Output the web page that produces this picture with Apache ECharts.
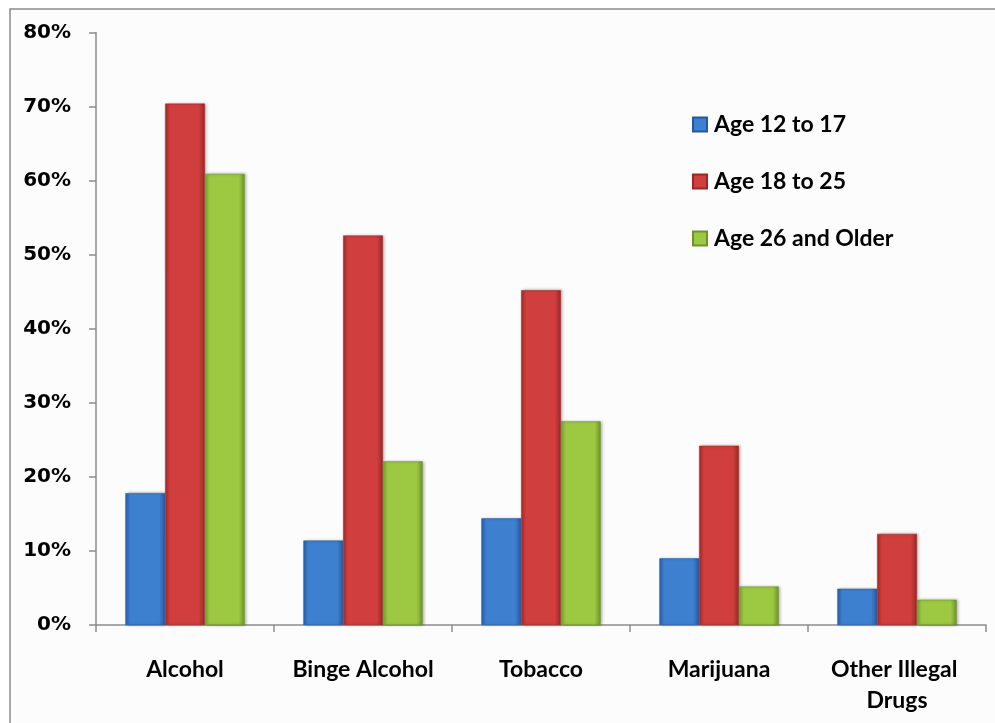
<!DOCTYPE html>
<html>
<head>
<meta charset="utf-8">
<script src="https://cdn.jsdelivr.net/npm/echarts@6/dist/echarts.min.js"></script>
<style>
html,body{margin:0;padding:0;background:#fff;}
#chart{width:995px;height:723px;}
</style>
</head>
<body>
<div id="chart"></div>
<script>
const categories = ["Alcohol", "Binge Alcohol", "Tobacco", "Marijuana", "Other Illegal Drugs"];
const seriesNames = ["Age 12 to 17", "Age 18 to 25", "Age 26 and Older"];
const age12to17 = [17.8, 11.4, 14.4, 9.0, 4.9];
const age18to25 = [70.4, 52.6, 45.2, 24.2, 12.3];
const age26plus = [60.9, 22.1, 27.5, 5.2, 3.4];
const yTicks = [0, 10, 20, 30, 40, 50, 60, 70, 80];

const palettes = [
  ["#2a62ae", "#3e80d0", "#2558a0"],
  ["#a82c2b", "#d03e3d", "#9a2726"],
  ["#7ba42e", "#9cc842", "#6f9526"]
];
function grad(p) {
  return new echarts.graphic.LinearGradient(0, 0, 1, 0, [
    {offset: 0, color: p[0]},
    {offset: 0.12, color: p[1]},
    {offset: 0.85, color: p[1]},
    {offset: 1, color: p[2]}
  ]);
}
const seriesData = [age12to17, age18to25, age26plus];

const chart = echarts.init(document.getElementById('chart'));
chart.setOption({
  backgroundColor: '#ffffff',
  animation: false,
  graphic: [
    {type: 'rect', silent: true, z: -10, shape: {x: 10, y: 9, width: 990, height: 720},
     style: {fill: '#fbfcfb', stroke: '#8c8c8c', lineWidth: 1.5}}
  ],
  grid: {left: 96, right: 9, top: 32.5, bottom: 98, containLabel: false},
  legend: {
    orient: 'vertical',
    left: 687,
    top: 108,
    itemWidth: 14,
    itemHeight: 14,
    itemGap: 34,
    icon: 'rect',
    textStyle: {fontFamily: 'Lato', fontWeight: 'bold', fontSize: 23, color: '#000', lineHeight: 21, padding: [0,0,0,2]},
    data: seriesNames
  },
  xAxis: {
    type: 'category',
    data: categories,
    axisLine: {lineStyle: {color: '#8c8c8c', width: 1.5}},
    axisTick: {show: true, length: 7, lineStyle: {color: '#8c8c8c', width: 1.5}, inside: false},
    axisLabel: {
      fontFamily: 'Lato', fontWeight: 'bold', fontSize: 23, color: '#000',
      margin: 29, lineHeight: 31, width: 165, overflow: 'break', interval: 0
    }
  },
  yAxis: {
    type: 'value',
    min: yTicks[0],
    max: yTicks[yTicks.length - 1],
    interval: 10,
    axisLine: {show: true, lineStyle: {color: '#8c8c8c', width: 1.5}},
    axisTick: {show: true, length: 7, lineStyle: {color: '#8c8c8c', width: 1.5}},
    splitLine: {show: false},
    axisLabel: {
      fontFamily: 'DejaVu Sans', fontWeight: 'bold', fontSize: 20, color: '#000', margin: 25,
      formatter: v => v + '%'
    }
  },
  series: seriesData.map((d, i) => ({
    name: seriesNames[i],
    type: 'bar',
    data: d,
    color: palettes[i][1],
    barGap: '0%',
    barCategoryGap: '33%',
    itemStyle: {
      color: grad(palettes[i]),
      borderColor: palettes[i][2],
      borderWidth: 0.5,
      shadowBlur: 3,
      shadowOffsetX: 1.5,
      shadowOffsetY: 0,
      shadowColor: 'rgba(0,0,0,0.35)'
    }
  }))
});
</script>
</body>
</html>
